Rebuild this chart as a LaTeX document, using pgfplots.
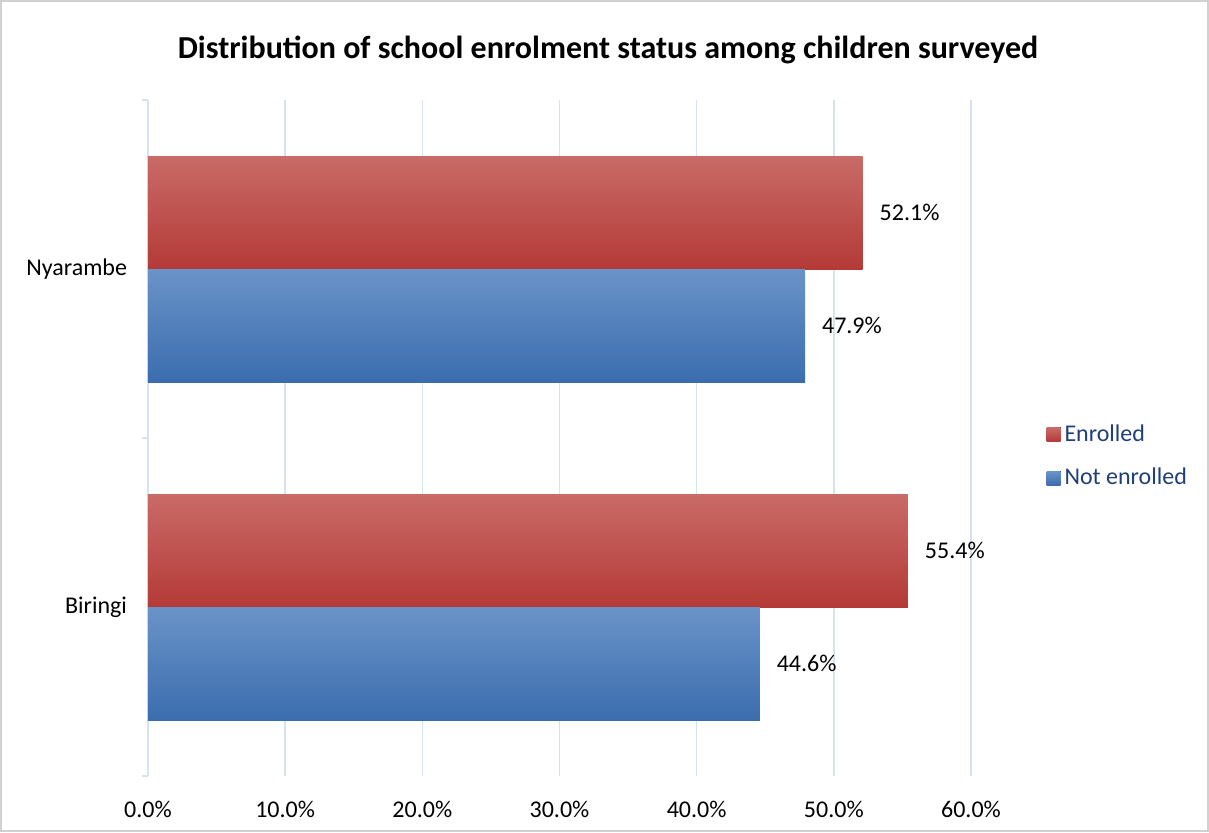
\documentclass[border=0pt]{standalone}
\usepackage{pgfplots}
\pgfplotsset{compat=1.18}
\usepackage{fontspec}
\setmainfont{Carlito}
\definecolor{gridc}{HTML}{D6E2F0}
\definecolor{redT}{HTML}{C96B67}
\definecolor{redM}{HTML}{C24946}
\definecolor{redB}{HTML}{B43A37}
\definecolor{bluT}{HTML}{6A93C8}
\definecolor{bluM}{HTML}{4A82C4}
\definecolor{bluB}{HTML}{3B6DAE}
\definecolor{legtext}{HTML}{1F3F77}
\begin{document}
\begin{tikzpicture}[x=1pt,y=1pt]
\path[draw=black!18, line width=0.8pt] (0.4,0.4) rectangle (604.1,415.6);
\node[font=\fontsize{16}{19}\selectfont\bfseries] at (304,391) {Distribution of school enrolment status among children surveyed};
\begin{axis}[
  at={(74pt,28pt)}, anchor=south west, scale only axis,
  width=411.5pt, height=338pt,
  xbar, xmin=0, xmax=60, ymin=-0.5, ymax=1.5,
  bar width=56.5pt,
  axis x line*=bottom, axis y line*=left,
  x axis line style={draw=none},
  y axis line style={draw=gridc, line width=0.8pt},
  xmajorgrids, grid style={draw=gridc, line width=0.8pt},
  xtick={0,10,...,60},
  xtick style={draw=none},
  xticklabel={\pgfmathprintnumber[fixed,fixed zerofill,precision=1]{\tick}\%},
  xticklabel style={yshift=-6pt},
  ytick={-0.5,0.5,1.5}, yticklabels={},
  ytick style={draw=gridc, line width=0.8pt},
  tick align=outside, major tick length=3pt,
  extra y ticks={0,1}, extra y tick labels={Biringi,Nyarambe},
  extra y tick style={major tick length=0pt, tick style={draw=none}, yticklabel style={xshift=-7pt}},
  /pgf/number format/assume math mode=true,
  tick label style={font=\fontsize{12}{14}\selectfont, text=black},
  nodes near coords={\pgfmathprintnumber[fixed,fixed zerofill,precision=1]{\pgfplotspointmeta}\%},
  point meta=x,
  every node near coord/.append style={anchor=west, xshift=5pt, font=\fontsize{12}{14}\selectfont, text=black},
  legend style={draw=none, fill=none, at={(1.084,0.473)}, anchor=west,
    font=\fontsize{12}{14}\selectfont, text=legtext, row sep=8pt},
  legend cell align=left,
  legend image code/.code={\fill[#1] (0pt,-3.5pt) rectangle (7pt,3.5pt);},
  enr/.style={draw=none, top color=redT, middle color=redM, bottom color=redB, bar shift=28.25pt},
  nen/.style={draw=none, top color=bluT, middle color=bluM, bottom color=bluB, bar shift=-28.25pt},
]
\addplot[enr] coordinates {(52.1,1)};
\addlegendentry{Enrolled}
\addplot[nen] coordinates {(47.9,1)};
\addlegendentry{Not enrolled}
\addplot[enr, forget plot] coordinates {(55.4,0)};
\addplot[nen, forget plot] coordinates {(44.6,0)};
\end{axis}
\end{tikzpicture}
\end{document}
